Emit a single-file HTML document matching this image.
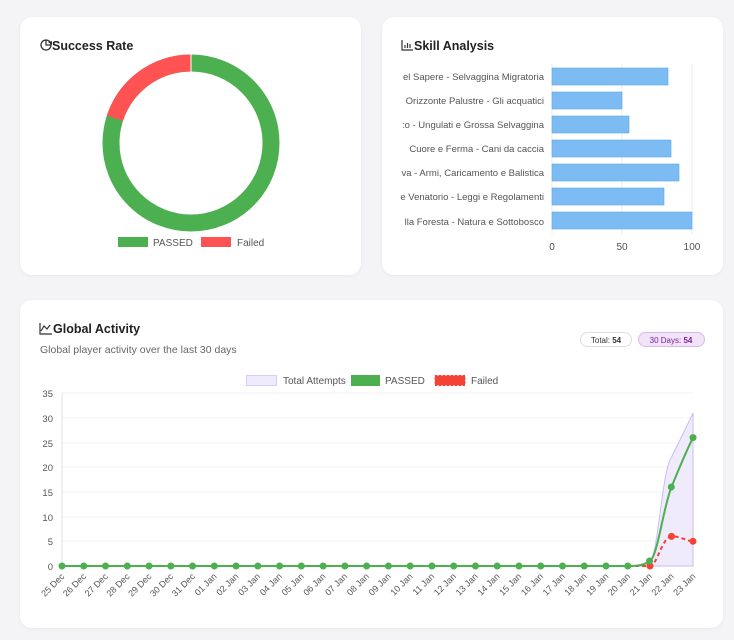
<!DOCTYPE html>
<html><head><meta charset="utf-8"><style>
body{margin:0;width:734px;height:640px;background:#f4f4f6;font-family:"Liberation Sans",sans-serif;position:relative;overflow:hidden}
.card{position:absolute;background:#fff;border-radius:12px;box-shadow:0 1px 4px rgba(0,0,0,.05)}
svg{position:absolute;left:0;top:0}
</style></head><body>
<div class="card" style="left:20px;top:17px;width:341px;height:258px"></div>
<div class="card" style="left:382px;top:17px;width:341px;height:258px"></div>
<div class="card" style="left:20px;top:300px;width:703px;height:328px"></div>
<svg width="734" height="640" viewBox="0 0 734 640" font-family="Liberation Sans, sans-serif">
<!-- Success rate -->
<circle cx="46" cy="45" r="5" fill="none" stroke="#333" stroke-width="1.3"/>
<path d="M46 40 V45 H51" stroke="#333" stroke-width="1.3" fill="none"/>
<path d="M48 42 L52 41 L52 45 Z" fill="#333"/>
<text x="52" y="50" font-size="12.5" font-weight="bold" fill="#222">Success Rate</text>
<circle cx="191" cy="143" r="80" fill="none" stroke="#4caf50" stroke-width="17"/>
<circle cx="191" cy="143" r="80" fill="none" stroke="#ff5252" stroke-width="17" stroke-dasharray="100.5 500" transform="rotate(-162 191 143)"/>
<line x1="191" y1="54" x2="191" y2="72" stroke="#fff" stroke-width="1"/>
<rect x="118" y="237" width="30" height="10" fill="#4caf50"/>
<text x="153" y="246" font-size="10" fill="#555">PASSED</text>
<rect x="201" y="237" width="30" height="10" fill="#ff5252"/>
<text x="237" y="246" font-size="10" fill="#555">Failed</text>
<!-- Skill -->
<path d="M402 40 V50 H413 M405 48 V45 M407.5 48 V43 M410 48 V44" stroke="#333" stroke-width="1.2" fill="none"/>
<text x="414" y="50" font-size="12.5" font-weight="bold" fill="#222">Skill Analysis</text>
<g stroke="#ececec"><line x1="552" y1="64" x2="552" y2="235"/><line x1="622" y1="64" x2="622" y2="235"/><line x1="692" y1="64" x2="692" y2="235"/></g>
<g fill="#7dbcf3" stroke="#5aa6ec" stroke-width="0.6">
<rect x="552" y="68" width="116" height="17"/><rect x="552" y="92" width="70" height="17"/><rect x="552" y="116" width="77" height="17"/><rect x="552" y="140" width="119" height="17"/><rect x="552" y="164" width="127" height="17"/><rect x="552" y="188" width="112" height="17"/><rect x="552" y="212" width="140" height="17"/>
</g>
<g font-size="9.5" fill="#555" text-anchor="end">
<text x="544" y="80">el Sapere - Selvaggina Migratoria</text>
<text x="544" y="104">Orizzonte Palustre - Gli acquatici</text>
<text x="544" y="128">:o - Ungulati e Grossa Selvaggina</text>
<text x="544" y="152">Cuore e Ferma - Cani da caccia</text>
<text x="544" y="176">va - Armi, Caricamento e Balistica</text>
<text x="544" y="200">e Venatorio - Leggi e Regolamenti</text>
<text x="544" y="225">lla Foresta - Natura e Sottobosco</text>
</g>
<rect x="382" y="60" width="18" height="180" fill="#fff"/>
<g font-size="10" fill="#555" text-anchor="middle"><text x="552" y="250">0</text><text x="622" y="250">50</text><text x="692" y="250">100</text></g>
<!-- Global activity -->
<path d="M40 323 V334 H52 M41 331 L44 326 L47 329 L50 325" stroke="#333" stroke-width="1.2" fill="none"/>
<text x="53" y="333" font-size="12.5" font-weight="bold" fill="#222">Global Activity</text>
<text x="40" y="353" font-size="10.5" fill="#666">Global player activity over the last 30 days</text>
<rect x="580.5" y="332.5" width="51" height="14" rx="7" fill="#fff" stroke="#ddd"/>
<text x="606" y="343" font-size="8" fill="#333" text-anchor="middle">Total: <tspan font-weight="bold">54</tspan></text>
<rect x="638.5" y="332.5" width="66" height="14" rx="7" fill="#f1e3f8" stroke="#d9b8e8"/>
<text x="671" y="343" font-size="8" fill="#7b1fa2" text-anchor="middle">30 Days: <tspan font-weight="bold">54</tspan></text>
<rect x="246.5" y="375.5" width="30" height="10" fill="#efeafc" stroke="#d8cdf5"/>
<text x="283" y="384" font-size="10" fill="#555">Total Attempts</text>
<rect x="351" y="375" width="29" height="11" fill="#4caf50"/>
<text x="385" y="384" font-size="10" fill="#555">PASSED</text>
<rect x="435" y="375.5" width="30" height="10" fill="#f44336" stroke="#f44336" stroke-dasharray="2 2"/>
<text x="471" y="384" font-size="10" fill="#555">Failed</text>
<g stroke="#f3f3f3"><line x1="62" y1="393" x2="693" y2="393"/><line x1="62" y1="418" x2="693" y2="418"/><line x1="62" y1="443" x2="693" y2="443"/><line x1="62" y1="467" x2="693" y2="467"/><line x1="62" y1="492" x2="693" y2="492"/><line x1="62" y1="517" x2="693" y2="517"/><line x1="62" y1="541" x2="693" y2="541"/></g>
<line x1="62" y1="393" x2="62" y2="566" stroke="#e0e0e0"/>
<line x1="62" y1="566" x2="693" y2="566" stroke="#e0e0e0"/>
<g font-size="9.5" fill="#555" text-anchor="end">
<text x="53" y="397">35</text><text x="53" y="422">30</text><text x="53" y="447">25</text><text x="53" y="471">20</text><text x="53" y="496">15</text><text x="53" y="521">10</text><text x="53" y="545">5</text><text x="53" y="570">0</text>
</g>
<path d="M62 566 L628 566 C635 566 643 566 650 561 C658 556 662 470 671.5 457 C680 440 686 428 693 413 L693 566 Z" fill="#efeafc" stroke="#c9bdf3" stroke-width="1"/>
<path d="M628 566 C640 566 643 566 650 566 C657 566 662 537 671.5 536.4 C680 536 686 541 693 541.3" fill="none" stroke="#f44336" stroke-width="2" stroke-dasharray="4 3"/>
<path d="M62 566 L628 566 C635 566 643 566 650 561 C658 555 663 508 671.5 487 C680 466 686 452 693 437.6" fill="none" stroke="#4caf50" stroke-width="2"/>
<g fill="#f44336"><circle cx="650" cy="566" r="3.5"/><circle cx="671.5" cy="536.4" r="3.5"/><circle cx="693" cy="541.3" r="3.5"/></g>
<g fill="#4caf50" id="pts"></g>
<g id="xl" font-size="9" fill="#555" text-anchor="end"></g>
</svg>
<script>
var pts=document.getElementById('pts'),xl=document.getElementById('xl');
var labels=['25 Dec','26 Dec','27 Dec','28 Dec','29 Dec','30 Dec','31 Dec'];
for(var d=1;d<=23;d++)labels.push((d<10?'0':'')+d+' Jan');
var ys={27:561,28:487,29:437.6};
var ns='http://www.w3.org/2000/svg';
for(var i=0;i<30;i++){var x=62+i*21.76;
var c=document.createElementNS(ns,'circle');c.setAttribute('cx',x);c.setAttribute('cy',ys[i]||566);c.setAttribute('r',3.5);pts.appendChild(c);
var t=document.createElementNS(ns,'text');t.setAttribute('x',x+3);t.setAttribute('y',577);t.setAttribute('transform','rotate(-45 '+(x+3)+' 577)');t.textContent=labels[i];xl.appendChild(t);}
</script>
</body></html>
